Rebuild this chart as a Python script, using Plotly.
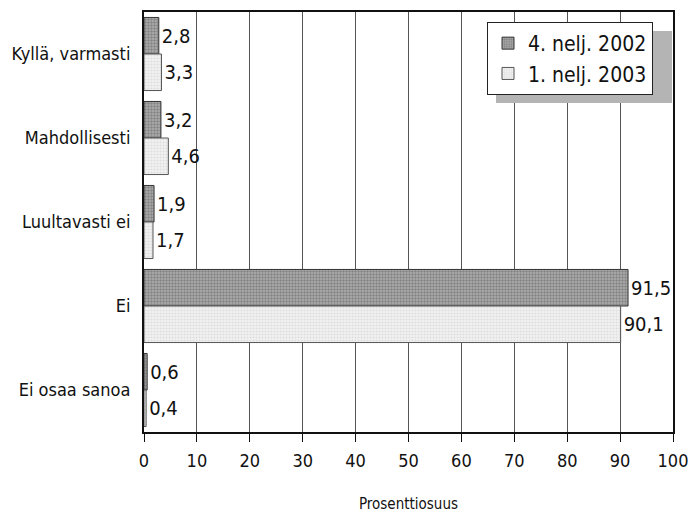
import plotly.graph_objects as go

categorias = ['Kyllä, varmasti', 'Mahdollisesti', 'Luultavasti ei', 'Ei', 'Ei osaa sanoa']
valores_2002 = [2.8, 3.2, 1.9, 91.5, 0.6]
valores_2003 = [3.3, 4.6, 1.7, 90.1, 0.4]
ticks_x = [0, 10, 20, 30, 40, 50, 60, 70, 80, 90, 100]

FUENTE = "DejaVu Sans Condensed, Liberation Sans Narrow, sans-serif"

X0, X1, Y0, Y1 = 144, 673, 12, 432


def etiqueta(v):
    return f"{v:.1f}".replace('.', ',')


def px_x(p):
    return (p - X0) / (X1 - X0)


def px_y(p):
    return (Y1 - p) / (Y1 - Y0)


fig = go.Figure()

fig.add_trace(go.Bar(
    y=categorias, x=valores_2002, orientation='h', name='4. nelj. 2002',
    text=[etiqueta(v) for v in valores_2002], textposition='outside',
    marker=dict(color='#9a9a9a', line=dict(color='#333333', width=1),
                pattern=dict(shape='.', fgcolor='#555555', bgcolor='#b0b0b0', size=3, solidity=0.5)),
    textfont=dict(size=20, color='#111111', family=FUENTE), cliponaxis=False
))
fig.add_trace(go.Bar(
    y=categorias, x=valores_2003, orientation='h', name='1. nelj. 2003',
    text=[etiqueta(v) for v in valores_2003], textposition='outside',
    marker=dict(color='#e8e8e8', line=dict(color='#555555', width=1),
                pattern=dict(shape='.', fgcolor='#c8c8c8', bgcolor='#f2f2f2', size=3, solidity=0.4)),
    textfont=dict(size=20, color='#111111', family=FUENTE), cliponaxis=False
))

# sombra de la leyenda
fig.add_shape(type='rect', xref='paper', yref='paper',
              x0=px_x(496), x1=px_x(672),
              y0=px_y(103), y1=px_y(31),
              fillcolor='#b4b4b4', line=dict(width=0), layer='above')

fig.update_layout(
    width=689, height=513,
    margin=dict(l=X0, r=689 - X1, t=Y0, b=513 - Y1),
    barmode='group', bargap=0.13, bargroupgap=0,
    plot_bgcolor='#ffffff', paper_bgcolor='#ffffff',
    font=dict(family=FUENTE, size=16, color='#111111'),
    showlegend=True,
    legend=dict(x=px_x(487), y=px_y(22), xanchor='left', yanchor='top',
                bgcolor='#ffffff', bordercolor='#222222', borderwidth=1,
                font=dict(size=21, family=FUENTE), itemwidth=30, tracegroupgap=0),
    xaxis=dict(range=[0, 100], tickvals=ticks_x, showgrid=True, gridcolor='#555555', gridwidth=1,
               showline=True, linecolor='#111111', linewidth=2, mirror=True,
               ticks='outside', ticklen=8, tickcolor='#111111', tickfont=dict(size=18),
               ticklabelstandoff=3, ticklabeloverflow='allow',
               zeroline=False, automargin=False,
               title=dict(text='Prosenttiosuus', font=dict(size=15), standoff=36)),
    yaxis=dict(autorange='reversed', showline=True, linecolor='#111111', linewidth=2, mirror=True,
               ticks='', tickfont=dict(size=18), ticklabelstandoff=8,
               showgrid=False, automargin=False),
)

# quitar el margen del body para que la figura empiece en (0, 0)
fig.write_html("out.html", config={'displayModeBar': False},
               post_script="document.body.style.margin='0';")
